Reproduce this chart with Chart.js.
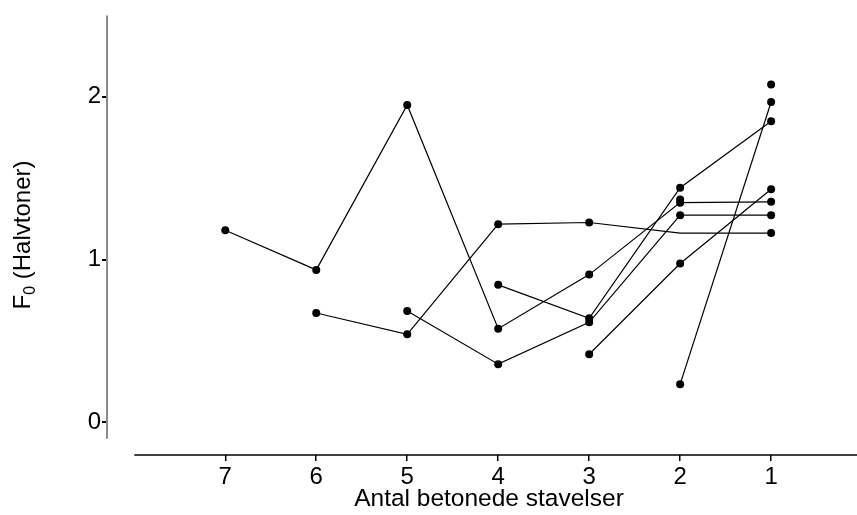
<!DOCTYPE html>
<html>
<head>
<meta charset="utf-8">
<script src="https://cdn.jsdelivr.net/npm/chart.js@4/dist/chart.umd.min.js"></script>
<style>
  html, body { margin: 0; padding: 0; background: #fff; overflow: hidden; }
  #wrap { width: 857px; height: 515px; }
</style>
</head>
<body>
<div id="wrap"><canvas id="chart"></canvas></div>
<script>
// Antal betonede stavelser (x categories, read right to left)
const stavelser = [7, 6, 5, 4, 3, 2, 1];
const yTicks = [0, 1, 2];

// F0 values per line, aligned with stavelser (null = no point)
const serieA = [1.18, 0.937, 1.95, 0.576, 0.908, 1.35, 1.355];
const serieB = [null, 0.672, 0.541, 1.218, 1.228, 1.163, 1.163];
const serieC = [null, null, 0.684, 0.358, 0.615, 1.273, 1.273];
const serieD = [null, null, null, 0.845, 0.64, 1.442, 1.85];
const serieE = [null, null, null, null, 0.419, 0.976, 1.432];
const serieF = [null, null, null, null, null, 0.235, 1.968];
const serieG = [null, null, null, null, null, null, 2.075];
const serieH = [null, null, null, null, null, 1.37, null];

const FONT = 'Liberation Sans, Arial, sans-serif';

function toPoints(values) {
    return values.map((v, i) => ({ x: stavelser[i], y: v }));
}

function makeDataset(values, hidden) {
    return {
        data: toPoints(values),
        borderColor: '#000',
        backgroundColor: '#000',
        borderWidth: 1.2,
        pointRadius: ctx => (hidden && hidden.includes(ctx.dataIndex) ? 0 : 4),
        pointBorderWidth: 0,
        pointHoverRadius: 0,
        spanGaps: false,
        tension: 0
    };
}

// Draw the detached axis lines and both axis titles
const axisPlugin = {
    id: 'axisPlugin',
    afterDraw(chart) {
        const ctx = chart.ctx;
        const x = chart.scales.x;
        const y = chart.scales.y;
        const area = chart.chartArea;
        ctx.save();

        // y axis line
        ctx.strokeStyle = '#8a8a8a';
        ctx.lineWidth = 2;
        ctx.beginPath();
        ctx.moveTo(area.left, y.getPixelForValue(2.5));
        ctx.lineTo(area.left, y.getPixelForValue(-0.1));
        ctx.stroke();

        // x axis line
        ctx.strokeStyle = '#000';
        ctx.lineWidth = 1.5;
        ctx.beginPath();
        ctx.moveTo(x.getPixelForValue(8), area.bottom);
        ctx.lineTo(chart.width, area.bottom);
        ctx.stroke();

        const big = '24px ' + FONT;
        const small = '16px ' + FONT;
        ctx.fillStyle = '#000';

        // x title
        ctx.font = '24.5px ' + FONT;
        ctx.textAlign = 'center';
        ctx.textBaseline = 'middle';
        ctx.fillText('Antal betonede stavelser', 489, 499);

        // y title: F0 (Halvtoner), 0 as subscript
        ctx.font = big;
        const wF = ctx.measureText('F').width;
        const wRest = ctx.measureText(' (Halvtoner)').width;
        ctx.font = small;
        const w0 = ctx.measureText('0').width;
        const total = wF + w0 + wRest;

        ctx.translate(30, 235);
        ctx.rotate(-Math.PI / 2);
        ctx.textBaseline = 'alphabetic';
        ctx.textAlign = 'left';
        let pos = -total / 2;
        ctx.font = big;
        ctx.fillText('F', pos, 0);
        pos += wF;
        ctx.font = small;
        ctx.fillText('0', pos, 5);
        pos += w0;
        ctx.font = big;
        ctx.fillText(' (Halvtoner)', pos, 0);
        ctx.restore();
    }
};

function init() {
    const ctx = document.getElementById('chart').getContext('2d');
    new Chart(ctx, {
        type: 'line',
        data: {
            datasets: [
                makeDataset(serieA),
                makeDataset(serieB, [5]),
                makeDataset(serieC),
                makeDataset(serieD),
                makeDataset(serieE),
                makeDataset(serieF),
                makeDataset(serieG),
                makeDataset(serieH)
            ]
        },
        options: {
            responsive: true,
            maintainAspectRatio: false,
            animation: false,
            layout: { padding: { top: 14, right: 0, left: 0, bottom: 0 } },
            plugins: {
                legend: { display: false },
                tooltip: { enabled: false }
            },
            scales: {
                x: {
                    type: 'linear',
                    reverse: true,
                    min: 0.1,
                    max: 8.3,
                    afterBuildTicks: s => { s.ticks = stavelser.map(v => ({ value: v })); },
                    afterFit: s => { s.height = 60; },
                    border: { display: false },
                    grid: {
                        drawOnChartArea: false,
                        drawTicks: true,
                        tickLength: 6,
                        color: '#000',
                        lineWidth: 1.5
                    },
                    ticks: {
                        color: '#000',
                        font: { size: 24, family: FONT },
                        padding: 2,
                        autoSkip: false,
                        maxRotation: 0
                    }
                },
                y: {
                    min: -0.2,
                    max: 2.5,
                    afterBuildTicks: s => { s.ticks = yTicks.map(v => ({ value: v })); },
                    afterFit: s => { s.width = 107; },
                    border: { display: false },
                    grid: {
                        drawOnChartArea: false,
                        drawTicks: true,
                        tickLength: 5,
                        color: '#000',
                        lineWidth: 2
                    },
                    ticks: {
                        color: '#000',
                        font: { size: 24, family: FONT },
                        padding: 1
                    }
                }
            }
        },
        plugins: [axisPlugin]
    });
}

document.addEventListener('DOMContentLoaded', init);
</script>
</body>
</html>
